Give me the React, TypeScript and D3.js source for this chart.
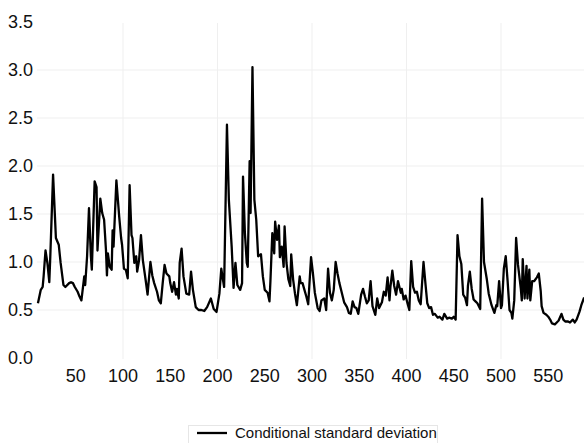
import React from "react";
import * as d3 from "d3";

const obsIndex: number[] = [
  10, 13, 15, 16, 18, 20, 22, 23, 26, 28, 29, 32, 34, 37, 39, 43, 45, 47, 49, 52,
  54, 56, 59, 60, 62, 64, 66, 67, 70, 72, 73, 76, 78, 80, 82, 83, 84, 86, 88, 89,
  90, 93, 96, 98, 99, 101, 103, 105, 107, 109, 110, 112, 114, 115, 117, 119, 121, 124, 126, 129,
  131, 133, 136, 138, 140, 142, 144, 146, 149, 150, 152, 154, 156, 157, 159, 160, 162, 164, 167, 170,
  172, 174, 177, 180, 183, 186, 189, 193, 196, 199, 202, 204, 207, 210, 212, 215, 217, 219, 221, 224,
  226, 227, 229, 231, 232, 234, 235, 237, 239, 241, 243, 246, 248, 250, 253, 255, 256, 258, 260, 261,
  263, 265, 266, 268, 270, 271, 273, 275, 277, 278, 280, 282, 284, 287, 288, 290, 292, 294, 296, 299,
  301, 303, 306, 308, 310, 313, 315, 317, 319, 321, 323, 325, 327, 329, 331, 334, 337, 339, 341, 343,
  345, 347, 349, 352, 354, 356, 358, 360, 362, 364, 367, 369, 371, 374, 376, 378, 380, 382, 383, 385,
  387, 389, 391, 394, 395, 397, 399, 401, 403, 405, 407, 409, 411, 413, 415, 418, 420, 422, 424, 426,
  428, 430, 433, 435, 438, 440, 443, 445, 448, 450, 452, 454, 456, 458, 460, 462, 464, 465, 467, 469,
  471, 473, 475, 478, 480, 482, 485, 487, 490, 493, 495, 496, 498, 500, 501, 503, 505, 507, 509, 511,
  512, 514, 516, 518, 521, 522, 523, 525, 527, 528, 530, 531, 533, 535, 538, 540, 542, 543, 545, 548,
  550, 552, 554, 557, 559, 561, 564, 566, 568, 571, 573, 576, 578, 580, 583, 585, 588,
];

const condSD: number[] = [
  0.57, 0.71, 0.74, 0.85, 1.12, 0.99, 0.79, 1.04, 1.91, 1.47, 1.25, 1.18, 0.99, 0.76, 0.74, 0.78, 0.79, 0.78, 0.74, 0.69,
  0.64, 0.60, 0.85, 0.76, 1.06, 1.56, 1.06, 0.92, 1.84, 1.78, 1.12, 1.66, 1.51, 1.44, 1.12, 0.86, 1.09, 0.95, 0.92, 1.33,
  1.16, 1.85, 1.47, 1.25, 1.18, 0.93, 0.92, 0.83, 1.80, 1.28, 1.25, 0.99, 1.06, 0.90, 1.02, 1.28, 1.02, 0.81, 0.66, 1.0,
  0.86, 0.78, 0.69, 0.60, 0.57, 0.78, 0.97, 0.88, 0.85, 0.78, 0.69, 0.79, 0.66, 0.72, 0.62, 0.99, 1.14, 0.85, 0.67, 0.66,
  0.90, 0.71, 0.53, 0.50, 0.50, 0.49, 0.53, 0.62, 0.51, 0.48, 0.67, 0.93, 0.74, 2.43, 1.65, 1.16, 0.73, 0.99, 0.76, 0.71,
  0.78, 1.89, 1.30, 0.99, 0.95, 2.05, 1.51, 3.03, 1.65, 1.44, 1.06, 1.08, 0.85, 0.71, 0.68, 0.59, 0.80, 1.30, 1.09, 1.42,
  1.23, 1.38, 1.05, 1.16, 0.95, 1.37, 0.99, 0.82, 0.75, 1.08, 0.82, 0.67, 0.55, 0.85, 0.78, 0.78, 0.71, 0.64, 0.56, 1.05,
  0.88, 0.68, 0.52, 0.49, 0.60, 0.62, 0.50, 0.93, 0.68, 0.60, 0.71, 1.0, 0.88, 0.78, 0.70, 0.58, 0.53, 0.47, 0.46, 0.59,
  0.53, 0.52, 0.46, 0.66, 0.72, 0.64, 0.57, 0.60, 0.80, 0.54, 0.45, 0.62, 0.52, 0.58, 0.69, 0.65, 0.84, 0.60, 0.74, 0.91,
  0.75, 0.66, 0.80, 0.68, 0.72, 0.61, 0.65, 0.57, 0.50, 1.01, 0.74, 0.68, 0.69, 0.60, 0.56, 1.0, 0.78, 0.57, 0.52, 0.53,
  0.45, 0.46, 0.42, 0.43, 0.40, 0.46, 0.41, 0.42, 0.41, 0.43, 0.40, 1.28, 1.06, 0.98, 0.66, 0.63, 0.55, 0.75, 0.90, 0.72,
  0.61, 0.59, 0.57, 0.51, 1.66, 1.0, 0.82, 0.67, 0.55, 0.47, 0.55, 0.54, 0.80, 0.52, 0.55, 0.93, 1.06, 0.80, 0.50, 0.47,
  0.41, 0.60, 1.25, 0.97, 0.72, 0.60, 1.03, 0.62, 0.96, 0.62, 0.92, 0.60, 0.80, 0.80, 0.84, 0.88, 0.70, 0.54, 0.47, 0.45,
  0.43, 0.40, 0.36, 0.35, 0.37, 0.39, 0.46, 0.40, 0.38, 0.38, 0.37, 0.40, 0.37, 0.40, 0.48, 0.55, 0.63,
];

const yTicks: number[] = [0, 0.5, 1.0, 1.5, 2.0, 2.5, 3.0, 3.5];
const xTicks: number[] = [50, 100, 150, 200, 250, 300, 350, 400, 450, 500, 550];
const xGrid: number[] = [100, 200, 300, 400, 500];
const yGrid: number[] = [0.5, 1.0, 1.5, 2.0, 2.5, 3.0];
const seriesName = "Conditional standard deviation";

const W = 584;
const H = 443;
const FONT = "'Liberation Sans Narrow', 'Arial Narrow', 'Liberation Sans', sans-serif";

export default function App() {
  const x = d3.scaleLinear().domain([0, 590]).range([28.5, 28.5 + 590 * 0.945]);
  const y = d3.scaleLinear().domain([0, 3.5]).range([358, 22]);
  const pts = obsIndex.map((t, i) => [t, condSD[i]] as [number, number]);
  const line = d3
    .line<[number, number]>()
    .x((d) => x(d[0]))
    .y((d) => y(d[1]));

  return (
    <svg
      width={W}
      height={H}
      style={{ position: "absolute", left: 0, top: 0, background: "#fff" }}
    >
      <rect x={0} y={0} width={W} height={H} fill="#fff" />
      {yGrid.map((v) => (
        <line key={"h" + v} x1={37} x2={W} y1={y(v)} y2={y(v)} stroke="#efefef" strokeWidth={1} />
      ))}
      {xGrid.map((v) => (
        <line key={"v" + v} x1={x(v)} x2={x(v)} y1={23} y2={359} stroke="#efefef" strokeWidth={1} />
      ))}
      {yTicks.map((v) => (
        <text
          key={"yt" + v}
          x={8}
          y={y(v)}
          dy="0.35em"
          fontFamily={FONT}
          fontSize={18}
          fill="#111"
        >
          {v.toFixed(1)}
        </text>
      ))}
      {xTicks.map((v) => (
        <text
          key={"xt" + v}
          x={x(v)}
          y={376}
          dy="0.35em"
          textAnchor="middle"
          fontFamily={FONT}
          fontSize={18}
          fill="#111"
        >
          {v}
        </text>
      ))}
      <path d={line(pts) || ""} fill="none" stroke="#000" strokeWidth={2.3} strokeLinejoin="round" />
      <rect x={188.5} y={425.5} width={249} height={30} fill="#fff" stroke="#e6e6e6" />
      <line x1={197} x2={227} y1={433} y2={433} stroke="#000" strokeWidth={2.3} />
      <text x={235} y={433} dy="0.35em" fontFamily={FONT} fontSize={15} fill="#111">
        {seriesName}
      </text>
    </svg>
  );
}
